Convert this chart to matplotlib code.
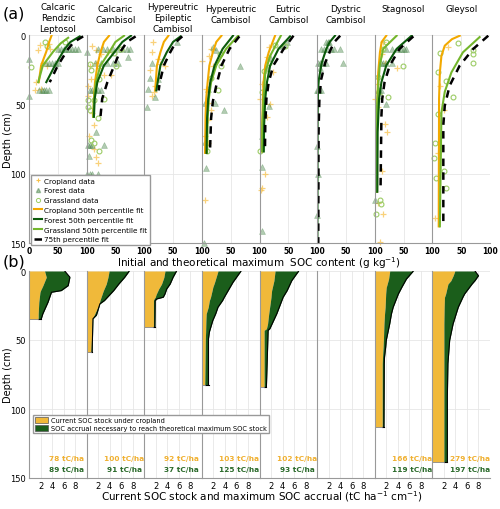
import matplotlib
matplotlib.use("Agg")
from matplotlib import pyplot as plt
from matplotlib.lines import Line2D
from matplotlib.patches import Patch

soils = ["Calcaric\nRendzic\nLeptosol", "Calcaric\nCambisol", "Hypereutric\nEpileptic\nCambisol",
         "Hypereutric\nCambisol", "Eutric\nCambisol", "Dystric\nCambisol", "Stagnosol", "Gleysol"]

# --- (a) fitted curves: depth (cm) and SOC (g/kg)
crop_fit_d = [[0.5, 5, 12, 22, 34], [0.5, 5, 12.5, 22, 34, 46, 59], [0.5, 5, 12.5, 22, 40],
              [0.5, 5, 12.5, 22, 34, 46, 58, 85], [0.5, 12.5, 22, 34, 46, 65, 84], None,
              [0.5, 5, 12.5, 27, 46, 70, 113], [0.5, 3, 7.7, 15, 27, 46, 138]]
crop_fit_x = [[39, 35, 30, 21, 17], [39, 30, 24, 18.6, 14.5, 12.7, 11.5], [42, 34, 28, 22, 19],
              [34, 25, 19, 13, 10, 7.5, 6.4, 5.5], [27, 16, 10, 7, 6, 4.6, 4.2], None,
              [20, 12, 9, 6, 4.6, 4, 4], [47.5, 34, 21.5, 15.7, 13, 11.6, 11]]
forest_fit_d = [[1, 5, 10, 22, 34], [0.5, 5, 12.5, 22, 34, 46, 59], [1, 5, 12.5, 22, 40],
                [0.5, 10, 22, 34, 46, 60, 85], [1, 10, 22, 34, 46, 65, 84],
                [0.5, 5, 10, 20, 32, 40, 60, 150], [0.5, 10, 22, 34, 46, 70, 113], None]
forest_fit_x = [[88, 72, 62, 45, 30], [77, 62, 48, 30, 18.6, 14, 12.7], [63, 50, 39, 28, 21],
                [54, 36, 22, 14.5, 11, 9, 8], [53, 33, 18.5, 13, 10, 8, 7.5],
                [31, 22, 16, 8, 3, 1.5, 0.8, 0.5], [64, 38, 20, 11.6, 7.5, 5, 4.5], None]
grass_fit_d = [[2, 6, 12, 22, 34], [0.5, 5, 12.5, 22, 34, 46, 59], None,
               [0.5, 10, 22, 34, 46, 60, 85], [0.5, 15, 27, 46, 65, 84], None,
               [0.5, 10, 22, 36.5, 51, 113], [1.5, 12.5, 27, 41, 56, 138]]
grass_fit_x = [[68, 55, 42, 24, 16], [65, 50, 39, 24, 16, 13, 11.5], None,
               [63, 42, 25, 16, 12, 10, 9], [37, 18.5, 10, 7, 5, 4.5], None,
               [38, 14.5, 8.7, 6, 4, 3.5], [82, 53, 33, 21.5, 15.7, 13]]
p75_fit_d = [[1, 5, 10, 22, 34], [1, 5, 13.7, 22, 34, 46, 59], [1, 5, 12.5, 22, 34, 40],
             [1, 10, 22, 36.5, 48, 60, 85], [0.5, 10, 22, 34, 46, 65, 84],
             [0.5, 5, 10, 20, 32, 45, 70, 150], [1, 10, 22, 34, 46, 58, 113],
             [0.5, 10, 22, 36.5, 51, 65, 138]]
p75_fit_x = [[94, 78, 68, 50, 36], [85, 70, 56, 48, 36, 27, 24], [66, 55, 45, 34, 27, 25],
             [65, 48, 34, 25, 19, 16, 14], [59, 42, 24, 16, 12, 10, 9.5],
             [40, 30, 24, 14, 7, 4, 2.5, 2], [67, 43, 26, 17, 13, 11.6, 10],
             [97, 71, 47.5, 30, 21.5, 19, 19]]

# --- (a) measured data points: (SOC, depth)
crop_pts = [
    [(19, 7), (16, 11), (34, 6.5), (25, 20), (31, 22), (13, 34), (21, 39), (10, 40), (37, 10)],
    [(10, 8), (16, 11), (25, 14), (37, 12), (5, 22), (8, 32), (22, 24), (31, 29), (43, 29), (2, 44),
     (10, 56), (13, 65), (16, 20), (2, 37), (4, 73), (13, 82), (16, 88), (19, 92)],
    [(16, 5), (13, 12), (10, 25), (27, 21), (36, 22), (24, 17), (19, 37), (17, 41), (14, 44)],
    [(0, 19), (13, 15), (16, 10), (19, 22), (8, 39), (10, 49), (16, 54), (10, 61), (5, 73), (10, 78),
     (6, 119)],
    [(16, 9), (13, 16), (24, 27), (4, 35), (1, 46), (19, 50), (13, 59), (10, 100), (4, 110), (3, 112)],
    [],
    [(14, 5), (12, 14), (17, 20), (38, 24), (6, 35), (0, 46), (6, 52), (17, 64), (21, 70), (12, 98),
     (6, 121), (14, 129), (9, 149)],
    [(27, 9), (13, 37), (21, 54), (10, 85), (4, 132)],
]
forest_pts = [
    [(50, 10), (55, 10), (60, 10), (65, 10), (70, 10), (75, 10), (80, 10), (85, 10), (30, 20), (35, 20),
     (40, 20), (45, 20), (50, 20), (18, 40), (22, 40), (26, 40), (30, 40), (35, 40), (0, 17), (0, 44)],
    [(20, 10), (28, 10), (35, 10), (45, 10), (55, 10), (62, 10), (70, 10), (75, 10), (15, 20), (25, 20),
     (35, 20), (45, 20), (55, 20), (5, 40), (10, 40), (15, 40), (20, 40), (25, 40), (0, 12), (71, 16),
     (16, 70), (3, 79), (6, 79), (10, 79), (30, 79), (4, 87), (0, 100), (5, 100), (10, 100), (20, 100)],
    [(4, 52), (19, 45), (24, 32), (10, 31), (13, 20), (7, 39), (56, 5)],
    [(19, 9), (25, 11), (66, 22), (10, 39), (5, 49), (39, 54), (22, 49), (5, 77), (8, 96), (3, 150)],
    [(39, 8), (42, 7), (48, 5), (19, 16), (13, 24), (16, 51), (4, 73), (4, 95), (4, 141)],
    [(16, 5), (19, 5), (21, 5), (7, 10), (12, 10), (18, 10), (24, 10), (30, 10), (39, 10), (1, 20),
     (5, 20), (10, 20), (16, 20), (45, 20), (5, 24), (0, 40), (2, 40), (4, 40), (6, 40), (0, 80),
     (1, 100), (0, 130)],
    [(20, 10), (30, 10), (40, 10), (45, 10), (50, 10), (55, 10), (10, 20), (15, 20), (20, 20), (30, 20),
     (5, 40), (8, 40), (10, 40), (20, 50), (0, 119)],
    [],
]
grass_pts = [
    [(28, 5), (3.5, 23), (63, 5), (31, 8)],
    [(5, 21), (8, 25), (2, 47), (5, 54), (2, 52), (31, 46), (22, 32), (48, 13), (60, 10), (51, 22),
     (13, 47), (19, 60), (7, 76), (13, 78), (21, 84)],
    [],
    [(31, 14), (33, 22), (16, 31), (28, 40), (9, 84)],
    [(27, 7), (45, 8), (16, 20), (7, 26), (4, 41), (0, 84)],
    [],
    [(20, 5), (14, 10), (49, 22), (23, 45), (6, 30), (9, 44), (9, 119), (10, 122), (3, 129)],
    [(13, 13), (45, 6), (71, 11), (71, 14), (71, 20), (10, 27), (24, 33), (36, 45), (10, 57), (4, 78),
     (2, 89), (7, 103), (20, 98), (23, 110)],
]

# --- (b) SOC stock profiles (tC/ha/cm): depth, current stock, theoretical maximum
stock_d = [[0, 4.5, 10.6, 14.2, 15.4, 22.6, 31, 35],
           [0, 4.6, 9.4, 14.2, 17.8, 21.4, 23.8, 32, 34.6, 59],
           [0, 4.6, 9.4, 13, 16.6, 19, 20.2, 21.4, 40.6],
           [0, 8.2, 11.8, 19, 21.4, 26.2, 31, 35.8, 44.2, 49, 82.6],
           [0, 7, 14.2, 19, 31, 38.2, 41.8, 43, 83.9],
           None,
           [0, 5.8, 11.8, 16.6, 26.2, 31, 38.2, 50.2, 55, 62.2, 67, 113],
           [0, 3.4, 7, 9.4, 16.6, 19, 26.2, 38.2, 50.2, 67, 91, 138.4]]
stock_now = [[2.7, 3.0, 2.4, 2.0, 1.9, 1.7, 1.6, 1.6],
             [3.9, 3.7, 3.4, 2.9, 2.6, 2.3, 2.2, 1.3, 1.0, 0.75],
             [3.6, 3.4, 3.0, 2.5, 2.1, 1.9, 1.7, 1.6, 1.6],
             [2.8, 2.2, 1.9, 1.5, 1.3, 1.1, 0.75, 0.7, 0.65, 0.6, 0.5],
             [2.7, 2.5, 2.1, 2.0, 1.6, 1.4, 1.2, 0.8, 0.8],
             None,
             [2.6, 2.4, 2.0, 1.9, 1.8, 1.7, 1.6, 1.5, 1.45, 1.35, 1.3, 1.3],
             [3.9, 3.6, 3.2, 2.7, 2.3, 2.1, 2.05, 2.0, 2.0, 2.0, 2.0, 2.0]]
stock_max = [[6.2, 7.1, 6.8, 5.6, 3.9, 3.3, 2.4, 2.1],
             [7.4, 6.6, 5.6, 4.7, 3.9, 3.1, 2.3, 1.7, 1.1, 0.95],
             [5.6, 5.0, 4.5, 3.9, 3.6, 3.3, 2.2, 1.9, 1.85],
             [6.8, 5.4, 4.9, 3.9, 3.6, 2.8, 2.4, 1.9, 1.3, 1.15, 1.15],
             [6.8, 5.6, 4.8, 4.1, 3.0, 2.2, 1.8, 1.5, 1.2],
             None,
             [6.7, 5.5, 4.7, 4.1, 3.2, 2.9, 2.6, 2.0, 1.9, 1.7, 1.65, 1.6],
             [7.4, 8.0, 7.4, 6.9, 5.6, 5.3, 4.5, 3.6, 3.0, 2.7, 2.6, 2.6]]
total_now = ["78", "100", "92", "103", "102", None, "166", "279"]
total_accrual = ["89", "91", "37", "125", "93", None, "119", "197"]

c_crop = "#f2a900"
c_forest = "#0b5a0b"
c_grass = "#74b62c"
c_yellow = "#f0b93a"
c_dkgreen = "#1b5e1b"

W, H = 500, 510
fig = plt.figure(figsize=(5.0, 5.1), dpi=100)
left_px, right_px = 29, 490
wpx = (right_px - left_px) / 8


def box(x0, top, w, h):
    return [x0 / W, 1 - (top + h) / H, w / W, h / H]


def style(ax, i, xt, xtl):
    ax.set_ylim(150, 0)
    ax.set_yticks([0, 50, 100, 150])
    for s in ["top", "right"]:
        ax.spines[s].set_visible(False)
    ax.spines["left"].set_color("#999999")
    ax.spines["bottom"].set_color("#999999")
    ax.spines["left"].set_linewidth(0.8)
    ax.spines["bottom"].set_linewidth(0.8)
    ax.set_xticks(xt)
    ax.set_xticklabels(xtl)
    ax.tick_params(axis="both", length=0, labelsize=6, pad=2)
    if i > 0:
        ax.set_yticklabels([])
    ax.grid(True, color="#e6e6e6", lw=0.6)
    ax.set_axisbelow(True)


axes_a = []
for i in range(8):
    ax = fig.add_axes(box(left_px + i * wpx, 36, wpx, 208))
    axes_a.append(ax)
    ax.set_xlim(0, 100)
    style(ax, i, [0, 50, 100], ["0" if i == 0 else "", "50", "100"])
    ax.tick_params(axis="x", labelsize=5.5)
    for lab in ax.get_xticklabels():
        lab.set_fontweight("bold")
    if crop_pts[i]:
        ax.plot([p[0] for p in crop_pts[i]], [p[1] for p in crop_pts[i]], "+", color="#f7c24d",
                ms=5, mew=0.9, alpha=0.75, clip_on=False)
    if forest_pts[i]:
        ax.plot([p[0] for p in forest_pts[i]], [p[1] for p in forest_pts[i]], "^", color="#3d7d3d",
                ms=4, mew=0.4, alpha=0.4, clip_on=False)
    if grass_pts[i]:
        ax.plot([p[0] for p in grass_pts[i]], [p[1] for p in grass_pts[i]], "o", mfc="none",
                mec="#9ccc65", ms=3.5, mew=0.8, clip_on=False)
    if crop_fit_d[i]:
        ax.plot(crop_fit_x[i], crop_fit_d[i], color=c_crop, lw=1.5)
    if grass_fit_d[i]:
        ax.plot(grass_fit_x[i], grass_fit_d[i], color=c_grass, lw=1.5)
    if forest_fit_d[i]:
        ax.plot(forest_fit_x[i], forest_fit_d[i], color=c_forest, lw=1.5)
    ax.plot(p75_fit_x[i], p75_fit_d[i], color="black", lw=1.8, dashes=(3, 2.5))
    nl = soils[i].count("\n")
    fig.text((left_px + (i + 0.5) * wpx) / W, 1 - (3 if nl == 2 else 5) / H, soils[i],
             ha="center", va="top", fontsize=6.3, linespacing=1.25)

axes_b = []
for i in range(8):
    ax = fig.add_axes(box(left_px + i * wpx, 272, wpx, 207))
    axes_b.append(ax)
    ax.set_xlim(0, 10)
    style(ax, i, [2, 4, 6, 8], ["2", "4", "6", "8"])
    if stock_d[i] is None:
        continue
    d, now, mx = stock_d[i], stock_now[i], stock_max[i]
    ax.fill_betweenx(d, 0, now, color=c_yellow, lw=0)
    ax.fill_betweenx(d, now, mx, color=c_dkgreen, lw=0)
    ax.plot(mx, d, color="black", lw=0.8)
    ax.plot([now[-1], mx[-1]], [d[-1], d[-1]], color="black", lw=0.8)
    ax.plot([0, now[-1]], [d[-1], d[-1]], color="#888888", lw=0.6)
    ax.text(6.5, 135.5, total_now[i] + " tC/ha", color="#f0b030", fontsize=5.3,
            fontweight="bold", ha="center", va="center")
    ax.text(6.5, 143.5, total_accrual[i] + " tC/ha", color="#2a6a2a", fontsize=5.3,
            fontweight="bold", ha="center", va="center")

fig.text(8 / W, 1 - 140 / H, "Depth (cm)", rotation=90, ha="center", va="center", fontsize=7)
fig.text(8 / W, 1 - 375 / H, "Depth (cm)", rotation=90, ha="center", va="center", fontsize=7)
fig.text(259 / W, 1 - 263 / H, r"Initial and theoretical maximum  SOC content (g kg$^{-1}$)",
         ha="center", va="center", fontsize=7.5)
fig.text(262 / W, 1 - 497 / H,
         r"Current SOC stock and maximum SOC accrual (tC ha$^{-1}$ cm$^{-1}$)",
         ha="center", va="center", fontsize=7.5)
fig.text(3 / W, 1 - 14 / H, "(a)", ha="left", va="center", fontsize=11.5)
fig.text(3 / W, 1 - 262 / H, "(b)", ha="left", va="center", fontsize=11.5)

handles_a = [
    Line2D([], [], ls="none", marker="+", color="#f7c24d", ms=3.5, mew=0.8),
    Line2D([], [], ls="none", marker="^", color="#3d7d3d", ms=3, alpha=0.45),
    Line2D([], [], ls="none", marker="o", mfc="none", mec="#9ccc65", ms=3, mew=0.7),
    Line2D([], [], color=c_crop, lw=1.5),
    Line2D([], [], color=c_forest, lw=1.5),
    Line2D([], [], color=c_grass, lw=1.5),
    Line2D([], [], color="black", lw=1.8, dashes=(3, 2.5)),
]
labels_a = ["Cropland data", "Forest data", "Grassland data", "Cropland 50th percentile fit",
            "Forest 50th percentile fit", "Grassland 50th percentile fit", "75th percentile fit"]
fig.legend(handles_a, labels_a, loc="upper left", bbox_to_anchor=(31 / W, 1 - 176 / H),
           fontsize=5.2, frameon=True, fancybox=False, edgecolor="#999999", framealpha=1,
           handlelength=1.2, handletextpad=0.3, labelspacing=0.52, borderpad=0.35,
           borderaxespad=0)

handles_b = [Patch(facecolor=c_yellow, edgecolor="#555555", lw=0.5),
             Patch(facecolor=c_dkgreen, edgecolor="#555555", lw=0.5)]
labels_b = ["Current SOC stock under cropland",
            "SOC accrual necessary to reach theoretical maximum SOC stock"]
fig.legend(handles_b, labels_b, loc="upper left", bbox_to_anchor=(33 / W, 1 - 416 / H),
           fontsize=4.8, frameon=True, fancybox=False, edgecolor="#999999", framealpha=1,
           handlelength=2.0, handleheight=1.0, handletextpad=0.5, labelspacing=0.25,
           borderpad=0.25, borderaxespad=0)

fig.savefig("out.png", dpi=100)
